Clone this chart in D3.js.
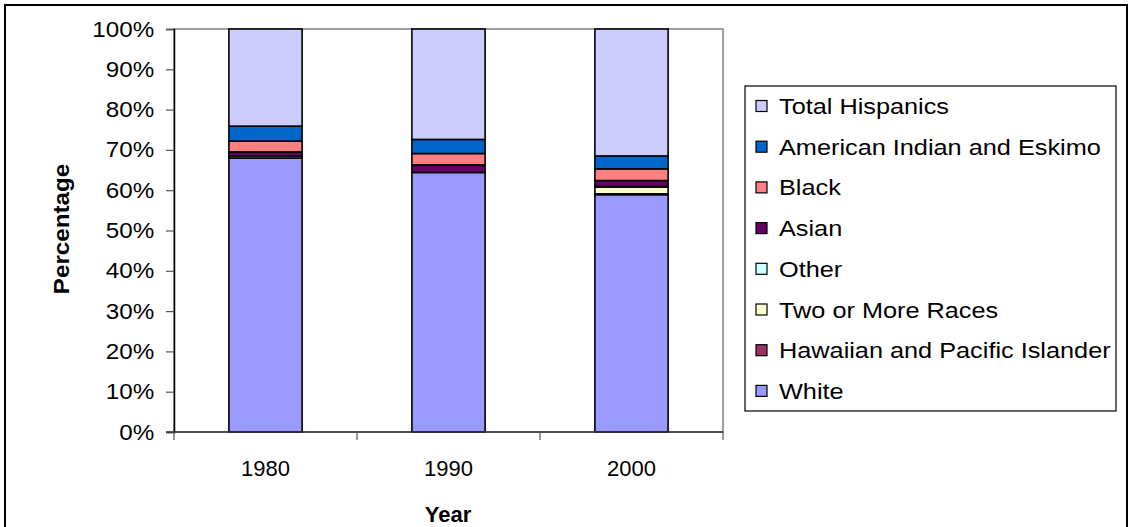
<!DOCTYPE html>
<html>
<head>
<meta charset="utf-8">
<script src="https://cdn.jsdelivr.net/npm/d3@7"></script>
<style>
  html, body { margin: 0; padding: 0; background: #fff; }
  svg text { font-family: "Liberation Sans", Arial, sans-serif; fill: #000; }
</style>
</head>
<body>
<svg id="chart" width="1130" height="527"></svg>
<script>
// Population shares by year (percent of total)
const years = ["1980", "1990", "2000"];
const white      = [68.0, 64.4, 58.9];
const hawaiian   = [0.0, 0.0, 0.2];
const twoOrMore  = [0.0, 0.0, 1.7];
const other      = [0.5, 0.0, 0.1];
const asian      = [1.0, 1.9, 1.5];
const black      = [2.7, 2.8, 2.9];
const amIndian   = [3.7, 3.5, 3.2];
const hispanics  = [24.1, 27.4, 31.5];
const yTicks = [0, 10, 20, 30, 40, 50, 60, 70, 80, 90, 100];

// Stack order from the bottom up
const seriesNames = ["White", "Hawaiian and Pacific Islander", "Two or More Races", "Other",
                     "Asian", "Black", "American Indian and Eskimo", "Total Hispanics"];
const seriesValues = [white, hawaiian, twoOrMore, other, asian, black, amIndian, hispanics];
const seriesColors = ["#9999FF", "#993366", "#FFFFCC", "#CCFFFF",
                      "#660066", "#FF8080", "#0066CC", "#CCCCFF"];

const rows = years.map((y, i) => {
  const r = { year: y };
  seriesNames.forEach((n, k) => { r[n] = seriesValues[k][i]; });
  return r;
});

const svg = d3.select("#chart");

// Outer frame
svg.append("rect").attr("x", 5).attr("y", 5).attr("width", 1122).attr("height", 530)
  .attr("fill", "none").attr("stroke", "#000").attr("stroke-width", 2);

const plot = { left: 174, right: 723, top: 29, bottom: 432 };

const x = d3.scaleBand().domain(years).range([plot.left, plot.right]).paddingInner(0).paddingOuter(0);
const y = d3.scaleLinear().domain([0, 100]).range([plot.bottom, plot.top]);

// Plot area border
svg.append("rect").attr("x", plot.left).attr("y", plot.top)
  .attr("width", plot.right - plot.left).attr("height", plot.bottom - plot.top)
  .attr("fill", "none").attr("stroke", "#808080").attr("stroke-width", 1.5);

const stack = d3.stack().keys(seriesNames);
const layers = stack(rows);

const barW = x.bandwidth() * 0.4;

svg.append("g").selectAll("g")
  .data(layers)
  .join("g")
  .attr("fill", (d, i) => seriesColors[i])
  .selectAll("rect")
  .data(d => d.filter(s => s[1] - s[0] > 0))
  .join("rect")
  .attr("x", d => x(d.data.year) + (x.bandwidth() - barW) / 2)
  .attr("width", barW)
  .attr("y", d => y(d[1]))
  .attr("height", d => y(d[0]) - y(d[1]))
  .attr("stroke", "#000")
  .attr("stroke-width", 1.6);

// Y axis
const yAxis = d3.axisLeft(y).tickValues(yTicks).tickFormat(d => d + "%").tickSize(8).tickPadding(10);
const gy = svg.append("g").attr("transform", `translate(${plot.left},0)`).call(yAxis);
gy.select(".domain").attr("stroke", "#000").attr("stroke-width", 1.5);
gy.selectAll(".tick line").attr("stroke", "#555").attr("stroke-width", 1.2);
gy.selectAll(".tick text").style("font-size", "22px")
  .attr("font-family", "Liberation Sans, Arial, sans-serif")
  .attr("transform", "scale(1.1,1)");

// X axis: ticks sit on category boundaries
const gx = svg.append("g").attr("transform", `translate(0,${plot.bottom})`);
gx.append("line").attr("x1", plot.left - 8).attr("x2", plot.right)
  .attr("stroke", "#333").attr("stroke-width", 1.5);
const bounds = years.map(d => x(d)).concat([plot.right]);
gx.selectAll("line.tk").data(bounds).join("line").attr("class", "tk")
  .attr("x1", d => d).attr("x2", d => d).attr("y1", 0).attr("y2", 8)
  .attr("stroke", "#555").attr("stroke-width", 1.2);
gx.selectAll("text").data(years).join("text")
  .attr("x", d => x(d) + x.bandwidth() / 2)
  .attr("y", 44)
  .attr("text-anchor", "middle")
  .style("font-size", "22px")
  .text(d => d);

// Axis titles
svg.append("text").attr("x", 448).attr("y", 522).attr("text-anchor", "middle")
  .style("font-size", "22px").style("font-weight", "bold").text("Year");
svg.append("text").attr("transform", "translate(69,229) rotate(-90) scale(1.1,1)").attr("text-anchor", "middle")
  .style("font-size", "22px").style("font-weight", "bold").text("Percentage");

// Legend
const legend = svg.append("g");
legend.append("rect").attr("x", 745).attr("y", 86).attr("width", 371).attr("height", 325)
  .attr("fill", "#fff").attr("stroke", "#000").attr("stroke-width", 1.2);
const legendItems = seriesNames.map((n, i) => ({ name: n, color: seriesColors[i] })).reverse();
const li = legend.selectAll("g.item").data(legendItems).join("g").attr("class", "item")
  .attr("transform", (d, i) => `translate(756,${106 + i * 40.7})`);
li.append("rect").attr("x", 0).attr("y", -5.5).attr("width", 11).attr("height", 11)
  .attr("fill", d => d.color).attr("stroke", "#000").attr("stroke-width", 1.2);
li.append("text").attr("transform", "translate(23,8) scale(1.15,1)")
  .style("font-size", "22px").text(d => d.name);
</script>
</body>
</html>
